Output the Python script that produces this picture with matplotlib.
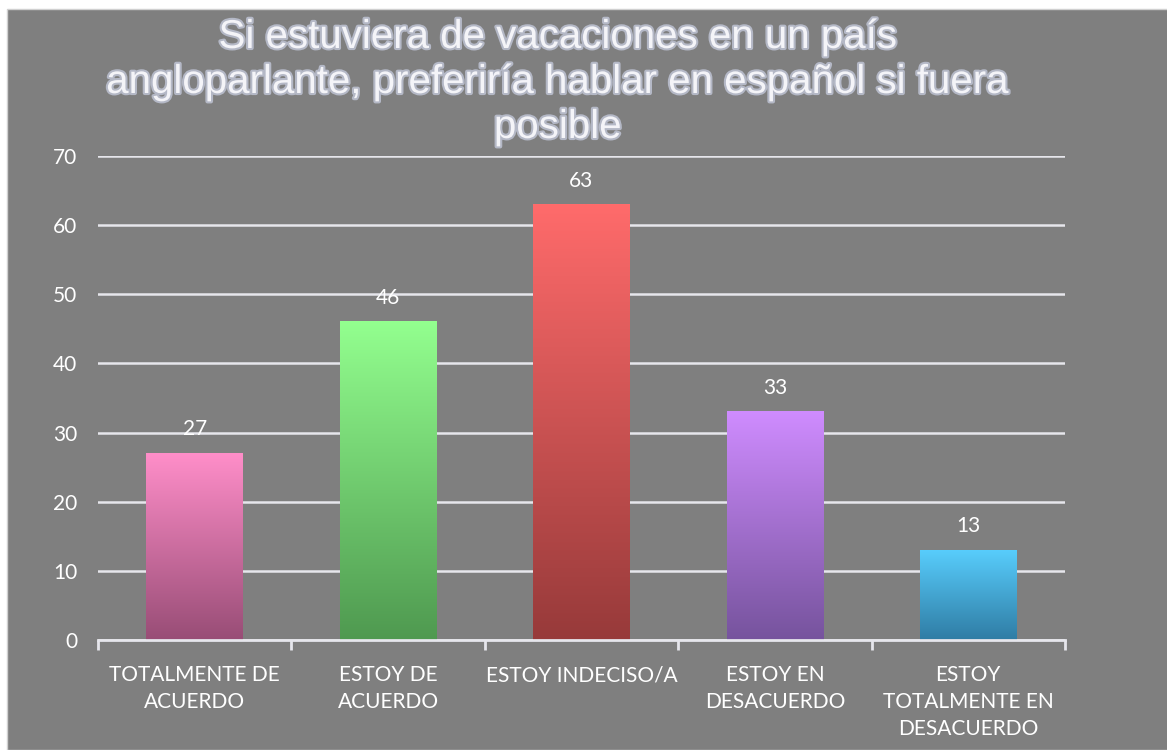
import matplotlib.pyplot as plt
import matplotlib.patheffects as pe
import numpy as np
from matplotlib.colors import LinearSegmentedColormap
from matplotlib.patches import Rectangle

categories = ["TOTALMENTE DE\nACUERDO", "ESTOY DE\nACUERDO", "ESTOY INDECISO/A",
              "ESTOY EN\nDESACUERDO", "ESTOY\nTOTALMENTE EN\nDESACUERDO"]
values = [27, 46, 63, 33, 13]
top_colors = ["#ff8ec9", "#93ff8f", "#ff6b6b", "#cf8cff", "#58cdfc"]
bottom_colors = ["#984d76", "#4f9950", "#973a3a", "#76539d", "#2f7ca4"]
title_lines = ["Si estuviera de vacaciones en un país",
               "angloparlante, preferiría hablar en español si fuera",
               "posible"]

bg = "#7f7f7f"
fig = plt.figure(figsize=(11.67, 7.5), dpi=100)
fig.patch.set_facecolor("white")
fig.patches.append(Rectangle((7 / 1167, 0), 1, 1 - 9 / 750, transform=fig.transFigure,
                             facecolor=bg, edgecolor="#d0d0d0", linewidth=1, zorder=-5))

ax = fig.add_axes([98 / 1167, 110 / 750, (1065 - 98) / 1167, (640 - 156) / 750])
ax.set_facecolor(bg)
ax.set_zorder(1)
ax.set_xlim(-0.5, 4.5)
ax.set_ylim(0, 70)
ax.set_yticks(range(0, 71, 10))
ax.yaxis.grid(True, color="#e6e6ec", linewidth=1.8)
ax.set_axisbelow(True)
for s in ["top", "right", "left"]:
    ax.spines[s].set_visible(False)
ax.spines["bottom"].set_color("#e6e6ec")
ax.spines["bottom"].set_linewidth(2)

lab_font = "Lato"
x = np.arange(len(values))
bars = ax.bar(x, values, width=0.5, color="none", zorder=2)
grad = np.linspace(0, 1, 256).reshape(-1, 1)
for b, v, tc, bc in zip(bars, values, top_colors, bottom_colors):
    cmap = LinearSegmentedColormap.from_list("g", [bc, tc])
    x0, w = b.get_x(), b.get_width()
    ax.imshow(grad, cmap=cmap, origin="lower", aspect="auto",
              extent=(x0, x0 + w, 0, v), zorder=2)
    ax.text(b.get_x() + w / 2, v + 2.0, str(v), ha="center", va="bottom",
            color="white", fontsize=15, family=lab_font)
ax.set_xlim(-0.5, 4.5)
ax.set_ylim(0, 70)

# category labels with boundary tick marks
ax.set_xticks(np.arange(-0.5, 5, 1))
ax.set_xticklabels([])
ax.tick_params(axis="x", direction="out", length=7, width=2, color="#e6e6ec")
ax.set_xticks(x, minor=True)
ax.set_xticklabels(categories, minor=True, color="white", fontsize=15,
                   family=lab_font, linespacing=1.45, va="top")
ax.tick_params(axis="x", which="minor", length=0, pad=18)
ax.tick_params(axis="y", length=0, pad=15, labelsize=15, labelcolor="white")
for lab in ax.get_yticklabels():
    lab.set_family(lab_font)

# title, one line at a time (baselines at 48, 93, 138 px)
for line, y_px in zip(title_lines, [48, 93, 138]):
    fig.text(558 / 1167, 1 - y_px / 750, line, ha="center", va="baseline",
             fontsize=29, color="#f4f4f8", family="Liberation Sans",
             path_effects=[pe.withStroke(linewidth=3, foreground="#b4b8c6")])

fig.savefig("out.png", dpi=100, facecolor=fig.get_facecolor())
